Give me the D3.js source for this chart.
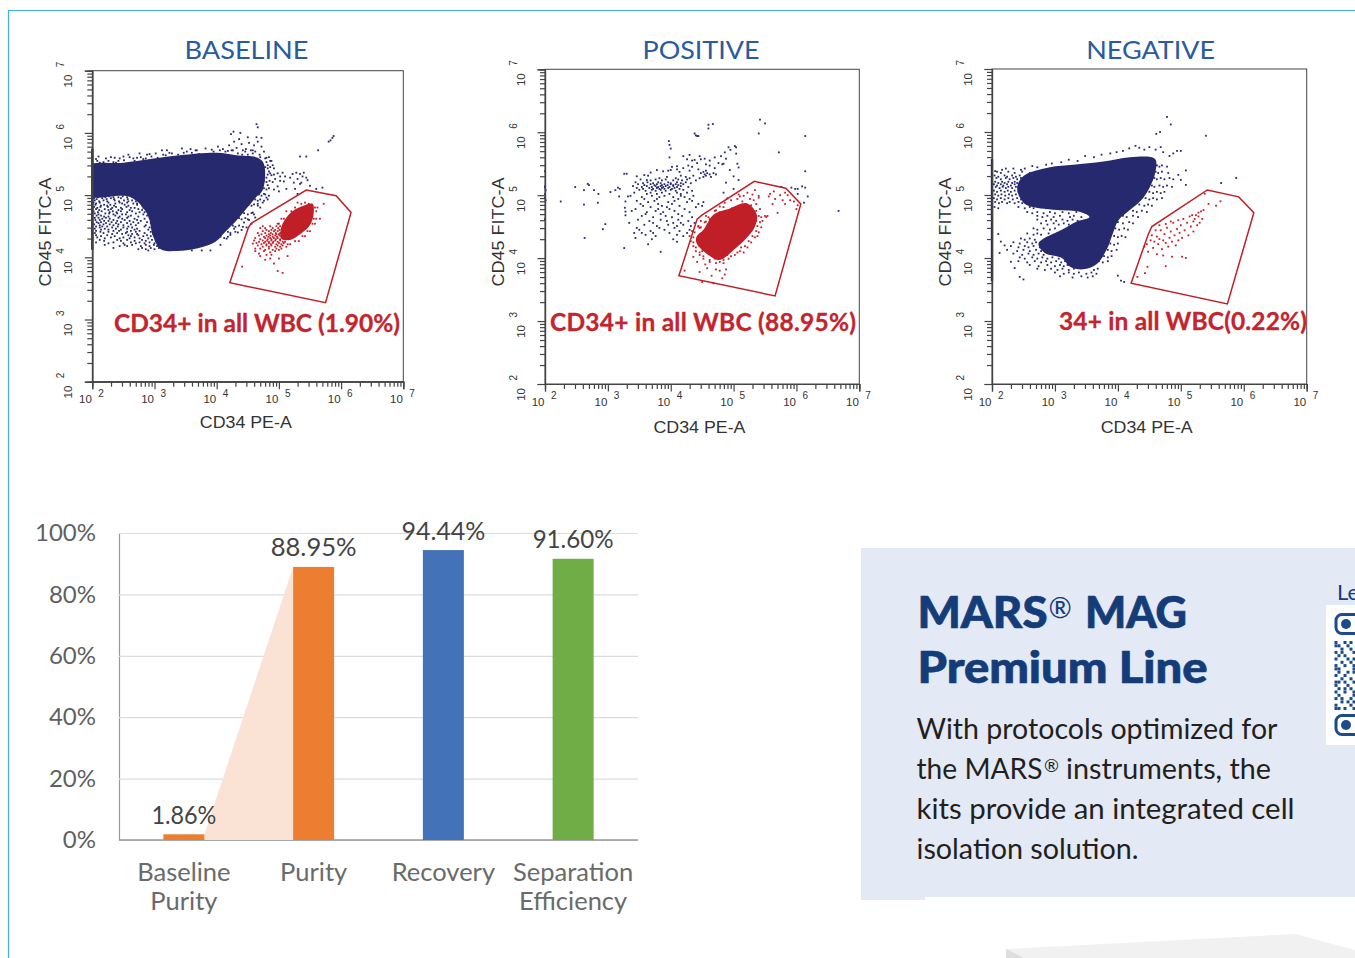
<!DOCTYPE html>
<html>
<head>
<meta charset="utf-8">
<script src="https://cdn.jsdelivr.net/npm/d3@7"></script>
<style>
html,body{margin:0;padding:0;background:#fff;overflow:hidden}
text{font-family:Lato,"Open Sans",sans-serif}
.cyto text{font-family:"Liberation Sans",Arial,sans-serif;fill:#333}
.cyto text.plotTitle,.cyto text.gateLabel{font-family:Lato,sans-serif}
</style>
</head>
<body>
<div id="chart"></div>
<script>
// all flow values are log10 exponents: [CD34 PE-A, CD45 FITC-A]
const decades = [2,3,4,5,6,7];
const minorSteps = [2,3,4,5,6,7,8,9];

const baselineGate = [[4.21,3.59],[4.51,4.48],[4.56,4.55],[5.44,5.08],[5.92,4.99],[6.16,4.72],[5.75,3.27]];
const positiveGate = [[4.13,3.72],[4.42,4.62],[4.49,4.68],[5.33,5.22],[5.83,5.11],[6.07,4.86],[5.66,3.40]];
const negativeGate = [[4.21,3.60],[4.48,4.37],[4.54,4.50],[5.42,5.08],[5.92,4.97],[6.16,4.72],[5.74,3.27]];

// solid part of each population
const baselineNavyMass = [[1.90,5.46],[2.50,5.52],[2.93,5.58],[3.41,5.64],[4.00,5.68],[4.32,5.64],[4.66,5.60],[4.76,5.50],[4.74,5.08],[4.62,4.95],[4.46,4.76],[4.30,4.57],[4.14,4.41],[3.98,4.25],[3.68,4.14],[3.36,4.10],[3.10,4.13],[2.98,4.33],[2.88,4.70],[2.61,4.97],[1.90,5.00]];
const baselineRedMass = [[5.04,4.49],[5.18,4.71],[5.37,4.82],[5.54,4.86],[5.56,4.71],[5.50,4.52],[5.34,4.37],[5.18,4.28],[5.04,4.30]];
const positiveRedMass = [[4.52,4.45],[4.68,4.69],[4.94,4.79],[5.21,4.87],[5.37,4.69],[5.34,4.50],[5.18,4.29],[5.00,4.13],[4.78,3.97],[4.57,4.07],[4.41,4.24],[4.41,4.34]];
const negativeNavyMass = [[2.50,5.30],[2.92,5.44],[3.29,5.48],[3.77,5.53],[4.19,5.60],[4.59,5.57],[4.59,5.34],[4.51,5.13],[4.40,4.95],[4.19,4.76],[4.01,4.60],[3.92,4.39],[3.82,4.13],[3.66,3.90],[3.45,3.82],[3.24,3.86],[3.11,4.00],[2.84,4.08],[2.74,4.23],[3.13,4.46],[3.35,4.58],[3.55,4.65],[3.40,4.73],[3.03,4.76],[2.55,4.84],[2.44,4.97],[2.40,5.13]];

// events piled against the left axis
const baselineEdge = [[2,5.75],[2,4.12]];
const negativeEdge = [[2,5.57],[2,3.63]];

// events typed as rows: [CD45, [CD34, CD34, ...]]
const baselineNavyRows = [
[5.72,[3.20,3.68,4.05,4.24,4.55]],[5.70,[3.52,3.95,4.14,4.46,4.62]],
[5.67,[2.76,3.02,3.28,4.34,4.58]],[5.65,[2.58,2.88,3.14,3.38,4.41,4.50,4.69]],
[5.61,[2.30,2.60,2.78,4.70,4.84]],[5.59,[2.22,2.44,2.66,2.86,4.78]],
[5.55,[2.08,2.26,2.42,4.88]],[5.53,[2.18,2.34,4.80]],
[5.45,[4.78,4.86]],[5.43,[4.82,4.92]],[5.35,[4.76,4.86,4.98]],[5.33,[4.82,4.92]],
[5.23,[4.76,4.85,5.02]],[5.21,[4.80,4.90]],[5.11,[4.76,4.84]],[5.09,[4.80,4.92]],
[5.01,[4.68,4.78]],[4.99,[4.72,4.84]],[4.93,[4.62,4.70,4.82]],[4.91,[4.66,4.76]],
[4.85,[4.52,4.60]],[4.83,[4.56,4.66]],[4.71,[4.44,4.56]],[4.69,[4.50,4.60]],
[4.63,[4.36,4.46]],[4.61,[4.40,4.50]],[4.51,[4.26,4.36]],[4.49,[4.30,4.42]],
[4.41,[4.18,4.30]],[4.39,[4.22]],[4.33,[4.06,4.18]],[4.31,[4.12]],
[4.98,[2.02,2.15,2.27,2.49,2.63]],[4.965,[2.09,2.21,2.34,2.42,2.56]],[4.95,[2.03,2.16,2.30,2.46,2.68]],[4.935,[2.07,2.23,2.35,2.57,2.74]],
[4.915,[2.04,2.18,2.36,2.51,2.64]],[4.90,[2.11,2.24,2.43,2.58,2.70,2.78]],[4.88,[2.02,2.12,2.26,2.44,2.56,2.83]],[4.865,[2.06,2.37,2.48,2.66,2.72,2.82]],
[4.845,[2.05,2.19,2.29,2.52,2.72]],[4.83,[2.14,2.24,2.35,2.58,2.80,2.86]],[4.81,[2.03,2.13,2.25,2.38,2.55,2.90]],[4.795,[2.08,2.32,2.46,2.62,2.68,2.82]],
[4.775,[2.06,2.20,2.30,2.48,2.74,2.90]],[4.76,[2.11,2.26,2.42,2.60,2.80]],[4.74,[2.02,2.15,2.33,2.46,2.64,2.92]],[4.725,[2.09,2.28,2.39,2.56,2.76,2.84]],
[4.705,[2.04,2.21,2.27,2.40,2.70,2.90]],[4.69,[2.10,2.34,2.48,2.54,2.82]],[4.67,[2.07,2.14,2.37,2.62,2.88]],[4.655,[2.19,2.26,2.44,2.58,2.74,2.94]],
[4.635,[2.04,2.10,2.22,2.42,2.56,2.92]],[4.62,[2.16,2.28,2.48,2.68,2.84]],[4.60,[2.05,2.12,2.34,2.52,2.72,2.96]],[4.585,[2.19,2.26,2.40,2.60,2.78]],
[4.565,[2.07,2.14,2.31,2.46,2.66,2.88]],[4.55,[2.10,2.22,2.38,2.56,2.74,2.94]],[4.53,[2.03,2.18,2.28,2.42,2.62,2.98]],[4.515,[2.12,2.34,2.50,2.70,2.86]],
[4.495,[2.06,2.16,2.24,2.41,2.58,2.84]],[4.48,[2.12,2.32,2.50,2.64,2.92]],[4.46,[2.04,2.20,2.38,2.56,2.72,2.98]],[4.445,[2.14,2.26,2.46,2.68,2.90]],
[4.425,[2.06,2.34,2.43,2.62,2.76,3.00]],[4.41,[2.13,2.26,2.56,2.70,2.94]],[4.39,[2.04,2.18,2.40,2.54,2.84]],[4.375,[2.32,2.48,2.64,2.72,2.98]],
[4.355,[2.06,2.24,2.58,2.74,2.88]],[4.34,[2.14,2.36,2.62,2.82,2.94]],[4.32,[2.08,2.30,2.50,2.68,3.02]],[4.305,[2.20,2.44,2.60,2.76,2.90]],
[4.28,[2.12,2.40,2.56,2.80,2.96]],[4.265,[2.19,2.46,2.68,2.86,3.02]],[4.24,[2.06,2.34,2.62,2.76,2.92]],[4.225,[2.26,2.50,2.70,2.84,3.00,3.06]],
[4.20,[2.20,2.52,2.64,2.86,2.99]],[4.18,[2.44,2.56,2.78,2.92,3.04]],[4.15,[2.34,2.80,2.94,3.07,3.30]],[4.13,[2.74,2.86,3.00,3.20,3.46]],[4.11,[2.90,3.60,3.76,3.90]]
];
const baselineRedRows = [
[4.50,[4.74,4.86,4.96,5.02]],[4.47,[4.70,4.78,4.90,4.99]],[4.44,[4.80,4.88,4.94,5.01]],[4.42,[4.74,4.84,4.92,4.98]],
[4.39,[4.66,4.78,4.87,4.95,5.02]],[4.37,[4.72,4.84,4.90,4.96,5.00]],[4.35,[4.68,4.80,4.86,4.94,5.01]],[4.33,[4.76,4.83,4.90,4.97,5.04]],
[4.31,[4.62,4.78,4.86,4.92,4.98]],[4.29,[4.70,4.82,4.88,4.95,5.02]],[4.27,[4.60,4.74,4.81,4.88,4.94,5.02]],[4.25,[4.68,4.78,4.84,4.91,4.98,5.06,5.10]],
[4.23,[4.64,4.76,4.84,4.90,5.00,5.08]],[4.21,[4.72,4.80,4.87,4.96,5.04,5.14,5.18]],[4.19,[4.66,4.80,4.88,4.98,5.06]],[4.17,[4.74,4.84,4.94,5.02,5.12]],
[4.14,[4.70,4.84,4.96,5.04]],[4.12,[4.78,4.90,5.00]],[4.10,[4.62,4.76,4.94]],[4.08,[4.86]],
[4.88,[5.30,5.42]],[4.86,[5.36,5.48]],[4.80,[5.26,5.58,5.62]],[4.74,[5.12,5.20,5.60]],[4.62,[5.04,5.08,5.56,5.60]],[4.54,[4.98,5.00,5.54,5.58]],[4.42,[5.46,5.50]],[4.34,[5.38,5.42]],[4.26,[5.26,5.32]]
];
const positiveNavyRows = [
[5.25,[3.52,3.76,3.92,4.12,4.26]],[5.235,[3.68,3.86,4.04,4.18,4.40]],[5.205,[3.44,3.63,3.80,3.96,4.10,4.24]],[5.19,[3.56,3.72,3.84,4.00,4.16,4.32]],
[5.175,[3.48,3.68,3.78,3.90,4.00,4.08,4.20]],[5.16,[3.58,3.74,3.86,3.95,4.04,4.12]],[5.145,[3.40,3.62,3.76,3.84,3.92,4.04,4.16]],[5.13,[3.54,3.70,3.80,3.88,3.98,4.10,4.28]],
[5.115,[3.46,3.66,3.78,3.86,3.96,4.06]],[5.10,[3.56,3.72,3.82,3.90,4.02,4.14]],[5.085,[3.50,3.70,3.84,4.00,4.20]],[5.07,[3.60,3.76,3.92,4.08,4.34]],
[5.04,[3.42,3.68,3.86,4.10,4.26]],[5.02,[3.62,3.78,3.98,4.16]],[4.99,[3.36,3.70,3.90,4.16,4.36]],[4.97,[3.54,3.82,4.04,4.22]],
[4.91,[3.46,3.74,4.06,4.34]],[4.89,[3.64,3.96,4.26,4.52]],[4.83,[3.56,3.86,4.14,4.50]],[4.81,[3.68,3.94,4.40]],
[4.75,[3.38,3.76,4.06]],[4.73,[3.62,3.88,4.30]],[4.67,[3.54,3.92,4.18]],[4.65,[3.72,4.02,4.34]],
[4.61,[3.48,3.84,4.12]],[4.59,[3.66,3.94,4.28]],[4.53,[3.58,3.96,4.20]],[4.51,[3.78,4.10,4.32]],
[4.45,[3.50,3.90,4.30]],[4.43,[3.68,4.14]],[4.37,[3.60,4.10]],[4.35,[3.76,4.20]],
[5.31,[3.64,4.16,4.36,4.56]],[5.29,[3.94,4.24,4.52,4.64]],[5.35,[4.48,4.58,4.68]],[5.33,[4.54,4.62,4.72]],
[5.39,[3.96,4.30,4.56]],[5.37,[4.14,4.52]],[5.45,[4.02,4.34]],[5.43,[4.20,4.70]],
[5.51,[4.42,4.76]],[5.49,[4.56,4.82]],[5.57,[4.26,4.48]],[5.55,[4.34,4.62]],
[4.86,[3.52,3.80,4.02,4.44]],[4.78,[3.44,3.80,3.98,4.22]],[4.70,[3.60,3.84,4.12]],[4.56,[3.72,4.04,4.16,4.38]],[4.48,[3.46,3.82,4.06]],[4.40,[3.72,3.98,4.26]],[4.94,[3.58,3.78,4.12,4.30]],[5.27,[3.82,4.08,4.30,4.46]],[5.41,[4.10,4.44]],[5.47,[4.28,4.62]]
];
const positiveRedRows = [
[4.81,[4.84,5.04,5.16]],[4.79,[4.98,5.08,5.24]],[4.75,[4.70,4.86,5.36]],[4.73,[4.78,5.30]],
[4.67,[4.56,5.40,5.50,5.54]],[4.65,[4.60,5.44,5.52]],[4.59,[4.48,5.36,5.46]],[4.57,[4.54,5.42]],
[4.51,[4.44,5.38]],[4.49,[4.48,5.44]],[4.43,[4.34,5.36]],[4.41,[4.38,5.40]],
[4.35,[4.30,5.30,5.38]],[4.33,[4.36,5.34]],[4.27,[4.32,5.24]],[4.25,[4.36,5.28]],
[4.19,[4.36,4.46,5.18]],[4.17,[4.40,5.12,5.22]],[4.11,[4.40,4.50,5.10]],[4.09,[4.46,5.06,5.16]],
[4.05,[4.46,4.90,5.02]],[4.03,[4.52,4.96]],[3.99,[4.52,4.70,4.92]],[3.97,[4.62,4.84]],[3.94,[4.62,4.78]],[3.92,[4.72,4.84]],
[5.01,[5.08,5.30]],[4.99,[5.16,5.40]]
];
const negativeNavyRows = [
[5.37,[2.08,2.26,2.48,2.70]],[5.35,[2.14,2.36,2.60]],[5.31,[2.04,2.20,2.32,2.44]],[5.29,[2.10,2.24,2.38]],
[5.27,[2.07,2.22,2.34,2.46]],[5.25,[2.14,2.28,2.40]],[5.21,[2.05,2.16,2.26,2.36]],[5.19,[2.10,2.20,2.32,2.40]],
[5.17,[2.03,2.14,2.24,2.36]],[5.15,[2.08,2.18,2.30]],[5.13,[2.06,2.17,2.26,2.38]],[5.11,[2.12,2.22,2.32]],
[5.07,[2.03,2.14,2.25,2.36]],[5.05,[2.08,2.20,2.30,2.42]],[5.01,[2.05,2.15,2.27,2.38]],[4.99,[2.10,2.21,2.32,2.44]],
[4.95,[2.03,2.14,2.26,2.40,2.50]],[4.93,[2.08,2.20,2.33,2.46]],[4.89,[2.05,2.16,2.28,2.42,2.54]],[4.87,[2.11,2.24,2.36,2.48]],
[4.81,[2.04,2.42,2.60,2.74,2.96]],[4.79,[2.10,2.52,2.66,2.86]],[4.73,[2.56,2.72,2.92,3.12,3.34]],[4.71,[2.64,2.82,3.00,3.22]],
[4.67,[2.72,2.88,3.08,3.30]],[4.65,[2.80,2.98,3.24,3.42]],[4.61,[2.72,2.94,3.12,3.28]],[4.59,[2.86,3.02,3.20,3.36]],
[4.55,[2.78,2.98,3.14]],[4.53,[2.88,3.06,3.22]],[4.47,[2.66,2.82,3.00]],[4.45,[2.72,2.92]],
[4.39,[2.56,2.72,2.90]],[4.37,[2.66,2.78]],[4.31,[2.46,2.60]],[4.29,[2.52,2.68]],
[4.25,[2.34,2.56,2.70]],[4.23,[2.44,2.64]],[4.19,[2.30,2.52,2.66]],[4.17,[2.42,2.58,2.76]],
[4.13,[2.24,2.50,2.70]],[4.11,[2.40,2.60,2.78]],[4.07,[2.34,2.58,2.74,2.94]],[4.05,[2.48,2.66,2.82,3.02]],
[4.01,[2.44,2.64,2.80,2.96]],[3.99,[2.52,2.72,2.88,3.06]],[3.95,[2.42,2.68,2.86,3.02,3.16]],[3.93,[2.56,2.78,2.94,3.10]],
[3.89,[2.60,2.88,3.08,3.20]],[3.87,[2.74,3.00,3.14]],[3.83,[2.72,2.94,3.12,3.30,3.68]],[3.81,[2.84,3.04,3.22,3.62]],
[3.77,[3.00,3.22,3.38,3.58]],[3.75,[3.14,3.30,3.50,3.66]],[3.71,[3.08,3.42,3.60]],[3.69,[3.28,3.52]],
[5.47,[4.62,4.70]],[5.45,[4.66,4.78]],[5.37,[4.60,4.70]],[5.35,[4.64,4.80]],
[5.27,[4.58,4.68,4.82]],[5.25,[4.62,4.74,4.88]],[5.15,[4.54,4.66,4.78]],[5.13,[4.58,4.72,4.86]],
[5.05,[4.50,4.62,4.74]],[5.03,[4.56,4.68]],[4.95,[4.44,4.56,4.70]],[4.93,[4.50,4.62]],
[4.85,[4.34,4.48]],[4.83,[4.42,4.54]],[4.75,[4.24,4.38]],[4.73,[4.30,4.46]],
[4.67,[4.08,4.24]],[4.65,[4.14,4.32]],[4.57,[4.00,4.18]],[4.55,[4.08,4.24]],
[4.47,[3.96,4.10]],[4.45,[4.02,4.16]],[4.35,[3.94,4.06]],[4.33,[4.00,4.12]],
[4.23,[3.88,4.00]],[4.21,[3.94]],[4.13,[3.84,3.98]],[4.11,[3.90]],[4.03,[3.78,3.90]],[4.01,[3.84]],[3.95,[3.70,3.84]],[3.93,[3.76]]
];

const baselineNavyEvents = [
[2.06,5.58],[2.10,5.62],[2.12,5.52],[2.36,5.60],[2.38,5.52],[2.50,5.62],[2.51,5.56],[2.68,5.55],[2.72,5.60],[2.82,5.58],[2.92,5.66],[2.95,5.62],[3.05,5.60],[3.12,5.72],[3.18,5.64],[3.24,5.68],[3.30,5.61],[3.44,5.75],[3.47,5.68],[3.58,5.74],[3.60,5.68],[3.66,5.72],[3.72,5.66],[3.82,5.75],[3.92,5.73],[4.02,5.78],[4.10,5.74],[4.18,5.71],[4.20,5.80],[4.26,5.72],[4.28,5.86],[4.32,5.76],[4.36,5.90],[4.40,5.82],[4.42,5.72],[4.47,5.74],[4.50,5.93],[4.52,5.84],[4.58,5.72],[4.60,5.80],[4.64,5.93],[4.66,5.86],[4.64,6.14],[4.66,6.09],[4.72,5.92],[4.72,5.78],[4.76,5.70],[4.23,5.98],[4.27,6.02],[4.38,6.00],[4.80,5.60],[4.86,5.55],[4.82,5.48],[4.90,5.48],[4.84,5.38],[4.80,5.28],[4.88,5.32],[4.94,5.26],[4.82,5.16],[4.76,5.02],[4.80,4.96],[4.74,4.88],[4.70,4.80],[4.66,4.86],[4.58,4.72],[4.62,4.64],[4.52,4.60],[4.56,4.54],[4.44,4.56],[4.48,4.48],[4.40,4.44],[4.34,4.40],[4.28,4.46],[4.22,4.36],[4.16,4.30],[4.06,4.20],
[5.02,5.30],[5.06,5.36],[5.08,5.22],[5.10,5.30],[5.12,5.10],[5.18,5.28],[5.22,5.34],[5.24,5.20],[5.28,5.36],[5.30,5.26],[5.34,5.34],[5.36,5.20],[5.38,5.30],[5.40,5.36],[5.44,5.28],[5.46,5.24],[5.26,5.10],[5.30,5.02],[5.34,5.18],[5.50,5.15],[4.98,5.14],[5.00,5.06],[5.34,5.62],[5.44,5.62],[5.63,5.72],[5.80,5.86],[5.83,5.88],[5.86,5.92],[5.88,5.95],[5.70,5.12],[5.60,5.10]
];
const baselineRedEvents = [
[4.41,3.85],[4.58,4.22],[4.62,4.14],[4.68,4.06],[4.80,4.04],[4.86,3.98],[4.92,3.90],[5.00,3.98],[4.98,3.78],[5.06,3.75],[5.14,4.02],[4.70,4.02],[4.78,3.96],[4.88,4.04],[5.66,4.62],[5.72,4.86]
];
const positiveNavyEvents = [
[2.00,5.38],[2.00,5.14],[2.00,5.12],[2.01,5.08],[2.00,5.02],[2.00,4.96],[2.01,4.92],[2.00,4.62],[2.25,4.90],[2.48,5.13],[2.62,5.08],[2.68,5.18],[2.70,5.16],[2.62,4.85],[2.63,4.32],[2.78,5.08],[2.85,5.02],[2.84,4.88],[2.92,4.46],[2.96,4.54],[3.04,5.05],[3.12,5.08],[3.18,4.98],[3.16,5.12],[3.19,5.10],
[3.26,5.34],[3.30,5.34],[3.28,4.90],[3.27,4.80],[3.28,4.74],[3.28,4.68],[3.26,4.16],[3.32,4.98],[3.34,4.56],[3.42,4.40],[3.44,4.32],[3.46,5.30],[3.54,4.40],[3.58,5.32],[3.62,5.24],[3.64,4.22],[3.68,5.36],[3.70,4.30],[3.78,5.40],[3.84,4.10],[3.88,5.38],[3.98,5.60],[4.00,5.40],[4.04,4.30],[4.10,5.46],[4.10,4.26],[4.20,5.62],[4.30,5.64],[4.38,5.56],[4.46,5.62],[4.54,5.58],[4.70,5.60],
[3.98,5.80],[4.00,5.74],[3.97,5.86],[4.38,5.98],[4.40,5.95],[4.42,5.94],[4.44,5.94],[4.60,6.06],[4.60,6.12],[4.67,6.13],[4.80,5.62],[4.84,5.50],[4.86,5.68],[4.88,5.58],[4.92,5.76],[4.95,5.72],[5.02,5.78],[5.04,5.76],[5.04,5.66],[5.06,5.50],[5.08,5.44],[4.88,5.20],[4.94,5.40],[5.00,5.30],[5.08,5.24],[5.00,5.10],[4.84,5.04],[4.90,4.95],[5.40,5.98],[5.42,6.20],[5.50,6.14],[5.72,5.68],[6.14,5.94],[6.14,5.38],[5.76,5.13],[5.92,5.12],[5.98,5.10],[6.02,5.10],[6.02,5.02],[6.18,4.98],[6.09,5.14],[6.14,5.12],[6.12,4.88],[6.67,4.75]
];
const positiveRedEvents = [
[4.22,3.80],[4.36,4.02],[4.42,3.94],[4.46,3.78],[4.50,3.62],[4.55,3.90],[4.58,3.84],[4.65,3.72],[4.68,3.60],[4.72,3.82],[4.78,3.80],[4.82,3.68],[4.86,3.74],[4.88,3.82],[4.44,4.50],[4.46,4.48],[4.56,4.58],[4.62,4.62],[4.72,4.76],[4.78,4.82],[4.86,4.88],[4.96,4.92],[5.06,4.94],[5.10,4.98],[5.14,4.90],[5.22,5.04],[5.26,4.94],[5.28,4.84],[5.32,4.92],[5.34,5.08],[5.36,4.86],[5.40,4.96],[5.42,4.78],[5.56,4.98],[5.58,5.02],[5.62,4.86],[5.64,5.06],[5.66,4.94],[5.70,4.72],[5.74,5.00],[5.78,4.92],[5.82,5.04],[5.86,5.00],[5.90,4.92],[5.96,4.90],[6.00,4.78],[6.02,4.84],[5.82,4.86]
];
const negativeNavyEvents = [
[2.05,5.38],[2.16,5.40],[2.22,5.42],[2.34,5.42],[2.46,5.40],[2.52,5.42],[2.64,5.46],[2.72,5.44],[2.86,5.48],[2.95,5.50],[3.10,5.52],[3.22,5.56],[3.36,5.54],[3.48,5.62],[3.62,5.60],[3.74,5.64],[3.88,5.66],[3.98,5.68],[4.08,5.70],[4.18,5.74],[4.28,5.78],[4.34,5.75],[4.42,5.72],[4.50,5.76],[4.60,5.72],[4.68,5.76],[4.72,5.68],[4.82,5.62],[4.88,5.66],[4.94,5.70],[5.00,5.70],
[2.10,4.38],[2.14,4.26],[2.12,4.08],[2.20,4.20],[2.30,3.94],[2.36,3.84],[2.50,3.66],[2.44,3.70],[4.00,3.72],[4.10,3.62],[4.05,3.64],[4.96,5.32],[5.00,5.24],
[4.78,6.24],[4.84,6.12],[4.67,6.00],[4.61,5.97],[5.40,5.94],[5.88,5.27],[5.64,5.19],[5.08,5.39],[5.08,5.16]
];
const negativeRedEvents = [
[4.31,3.70],[4.43,3.76],[4.47,3.86],[4.76,3.87],[4.42,4.18],[4.46,4.22],[4.48,4.10],[4.52,4.28],[4.54,4.36],[4.56,4.16],[4.58,4.26],[4.62,4.34],[4.62,4.06],[4.64,4.22],[4.66,4.30],[4.68,4.44],[4.70,4.14],[4.72,4.04],[4.72,4.28],[4.74,4.38],[4.76,4.24],[4.78,4.48],[4.80,4.18],[4.82,4.32],[4.84,4.42],[4.86,4.26],[4.86,4.02],[4.88,4.56],[4.90,4.36],[4.92,4.20],[4.94,4.46],[4.96,4.28],[4.96,4.60],[4.98,4.40],[5.00,4.52],[5.02,4.32],[5.02,4.02],[5.04,4.62],[5.06,4.44],[5.08,4.00],[5.10,4.56],[5.12,4.36],[5.14,4.66],[5.16,4.50],[5.18,4.68],[5.20,4.42],[5.20,4.58],[5.22,4.62],[5.24,4.68],[5.26,4.52],[5.28,4.72],[5.30,4.56],[5.32,4.74],[5.34,4.62],[5.36,4.76],[5.28,4.66],[5.44,4.86],[5.56,4.83],[5.63,4.90],[5.38,5.02],[4.60,4.44],[4.66,4.52],[4.76,4.54],[4.84,4.58]
];

const panelTitles = ["BASELINE","POSITIVE","NEGATIVE"];
const panelGates = [baselineGate,positiveGate,negativeGate];
const panelNavyMass = [baselineNavyMass,[],negativeNavyMass];
const panelRedMass = [baselineRedMass,positiveRedMass,[]];
const panelEdges = [baselineEdge,[],negativeEdge];
const panelNavyEvents = [baselineNavyEvents,positiveNavyEvents,negativeNavyEvents];
const panelNavyRows = [baselineNavyRows,positiveNavyRows,negativeNavyRows];
const panelRedEvents = [baselineRedEvents,positiveRedEvents,negativeRedEvents];
const panelRedRows = [baselineRedRows,positiveRedRows,[]];
const gateLabels = ["CD34+ in all WBC (1.90%)","CD34+ in all WBC (88.95%)","34+ in all WBC(0.22%)"];

// bar chart
const barCategories = [["Baseline","Purity"],["Purity"],["Recovery"],["Separation","Efficiency"]];
const barValues = [1.86,88.95,94.44,91.60];
const barLabels = ["1.86%","88.95%","94.44%","91.60%"];
const barColors = ["#ed7d31","#ed7d31","#4472b8","#70ad47"];
const barTicks = [0,20,40,60,80,100];

const qrRows = ["1001010","1100100","0010010","1010001","0101000","1000101","0010010","1001001","1100001","0100101","1001000","0010010","1101001","1000100","0101010","1001001","0100001","1010010","0010101","1000010","1101001"];

const width = 1355,height = 958;
const navy = "#27296f",red = "#c01f27";
const flatten = r => r.flatMap(row => row[1].map(x => [x,row[0]]));

const svg = d3.select("#chart").append("svg")
    .attr("width",width)
    .attr("height",height)
    .style("display","block");

// outer frame
svg.append("path")
    .attr("d","M8.5,958V10.5H1355")
    .attr("fill","none")
    .attr("stroke","#3fb3e6")
    .attr("stroke-width",1.2);

const layouts = [
    {left:92.3,right:403.3,top:70.7,bottom:381.7,titleX:246.5,xLabelX:245.8,xLabelY:427.7,gateX:114,gateW:286,gateY:331.5},
    {left:545,right:859.3,top:69.3,bottom:384,titleX:701,xLabelX:699.5,xLabelY:432.7,gateX:550,gateW:306,gateY:331},
    {left:992,right:1306.7,top:69,bottom:384,titleX:1150.7,xLabelX:1146.7,xLabelY:432.7,gateX:1059,gateW:248,gateY:330}
];
const titleWidths = [124,117,129];
const dot = 1.8;

panelTitles.forEach(function(title,i){
    const lay = layouts[i];
    const x = d3.scaleLog().domain([1e2,1e7]).range([lay.left,lay.right]);
    const y = d3.scaleLog().domain([1e2,1e7]).range([lay.bottom,lay.top]);
    const px = d => x(Math.pow(10,d[0]));
    const py = d => y(Math.pow(10,d[1]));
    const outline = d3.line().x(px).y(py);
    const blob = d3.line().x(px).y(py).curve(d3.curveCatmullRomClosed.alpha(.5));
    const g = svg.append("g").attr("class","cyto");

    const majors = decades.map(d => Math.pow(10,d));
    const minors = [];
    decades.slice(0,5).forEach(function(d){
        minorSteps.forEach(function(m){ minors.push(m*Math.pow(10,d)); });
    });

    g.append("rect")
        .attr("x",lay.left).attr("y",lay.top)
        .attr("width",lay.right-lay.left).attr("height",lay.bottom-lay.top)
        .attr("fill","none").attr("stroke","#444").attr("stroke-width",1);

    const clipId = "plotClip"+i;
    g.append("clipPath").attr("id",clipId).append("rect")
        .attr("x",lay.left).attr("y",lay.top)
        .attr("width",lay.right-lay.left).attr("height",lay.bottom-lay.top);

    // populations
    if(panelNavyMass[i].length){
        g.append("path").attr("clip-path","url(#"+clipId+")").attr("d",blob(panelNavyMass[i])).attr("fill",navy);
    }
    if(panelEdges[i].length){
        g.append("path").attr("d",outline(panelEdges[i])).attr("stroke",navy).attr("stroke-width",2.4);
    }
    g.append("g").selectAll("rect").data(panelNavyEvents[i].concat(flatten(panelNavyRows[i]))).enter().append("rect")
        .attr("x",d => px(d)-dot/2).attr("y",d => py(d)-dot/2)
        .attr("width",dot).attr("height",dot).attr("fill",navy);
    if(panelRedMass[i].length){
        g.append("path").attr("d",blob(panelRedMass[i])).attr("fill",red);
    }
    g.append("g").selectAll("rect").data(panelRedEvents[i].concat(flatten(panelRedRows[i]))).enter().append("rect")
        .attr("x",d => px(d)-dot/2).attr("y",d => py(d)-dot/2)
        .attr("width",dot).attr("height",dot).attr("fill",red);

    // axes, major and minor ticks separately
    [[majors,7.5],[minors,5]].forEach(function(a){
        g.append("g")
            .attr("transform","translate(0,"+lay.bottom+")")
            .call(d3.axisBottom(x).tickValues(a[0]).tickSize(a[1]).tickFormat(""))
            .call(s => s.selectAll("line,path").attr("stroke","#444").attr("stroke-width",1.2));
        g.append("g")
            .attr("transform","translate("+lay.left+",0)")
            .call(d3.axisLeft(y).tickValues(a[0]).tickSize(a[1]).tickFormat(""))
            .call(s => s.selectAll("line,path").attr("stroke","#444").attr("stroke-width",1.2));
    });

    // tick labels with superscript
    decades.forEach(function(d){
        const v = Math.pow(10,d);
        g.append("text").attr("x",x(v)-.5).attr("y",lay.bottom+21.5)
            .attr("text-anchor","end").attr("font-size",11.5).text("10");
        g.append("text").attr("x",x(v)+6).attr("y",lay.bottom+15)
            .attr("font-size",10).text(d);
        g.append("text").attr("transform","translate("+(lay.left-20.5)+","+(y(v)+4)+") rotate(-90)")
            .attr("text-anchor","end").attr("font-size",11.5).text("10");
        g.append("text").attr("transform","translate("+(lay.left-28)+","+(y(v)-3.5)+") rotate(-90)")
            .attr("font-size",10).text(d);
    });

    g.append("text").attr("x",lay.xLabelX).attr("y",lay.xLabelY)
        .attr("text-anchor","middle").attr("font-size",16)
        .attr("textLength",92).attr("lengthAdjust","spacingAndGlyphs")
        .text("CD34 PE-A");
    g.append("text").attr("transform","translate("+(lay.left-41.5)+",232) rotate(-90)")
        .attr("text-anchor","middle").attr("font-size",16.5)
        .attr("textLength",109).attr("lengthAdjust","spacingAndGlyphs")
        .text("CD45 FITC-A");

    g.append("text").attr("class","plotTitle")
        .attr("x",lay.titleX).attr("y",58.5)
        .attr("text-anchor","middle").attr("font-size",25)
        .attr("textLength",titleWidths[i]).attr("lengthAdjust","spacingAndGlyphs")
        .style("fill","#2a5b9e").text(title);

    g.append("path").attr("d",outline(panelGates[i])+"Z")
        .attr("fill","none").attr("stroke",red).attr("stroke-width",1.5);
    g.append("text").attr("class","gateLabel")
        .attr("x",lay.gateX).attr("y",lay.gateY)
        .attr("font-size",24.5).attr("font-weight",700)
        .attr("textLength",lay.gateW).attr("lengthAdjust","spacing")
        .attr("stroke","#c3242d").attr("stroke-width",.3)
        .style("fill","#c3242d").text(gateLabels[i]);
});

// bar chart
const barX = d3.scaleBand().domain(d3.range(barValues.length)).range([119,638]).paddingInner(.684).paddingOuter(.342);
const barY = d3.scaleLinear().domain([0,100]).range([840,533]);
const valueWidths = [65,86,84,81];
const barG = svg.append("g");

barG.append("g")
    .attr("transform","translate(119,0)")
    .call(d3.axisLeft(barY).tickValues(barTicks).tickSize(-519).tickPadding(23).tickFormat(d => d+"%"))
    .call(function(s){
        s.select(".domain").attr("stroke","#999").attr("stroke-width",1.2);
        s.selectAll(".tick line").attr("stroke","#dcdcdc").attr("stroke-width",1.2);
        s.selectAll(".tick text").attr("font-family","Lato").attr("font-size",24).attr("fill","#5f5f5f");
    });
barG.append("line")
    .attr("x1",119).attr("x2",638).attr("y1",barY(0)).attr("y2",barY(0))
    .attr("stroke","#999").attr("stroke-width",1.5);

// shaded wedge from baseline to purity
barG.append("path")
    .attr("d",d3.area()
        .x(d => d[0])
        .y0(barY(0))
        .y1(d => barY(d[1]))([[barX(0)+barX.bandwidth(),barValues[0]],[barX(1),barValues[1]]]))
    .attr("fill","#fae3d5");

barG.selectAll("rect.bar").data(barValues).enter().append("rect")
    .attr("class","bar")
    .attr("x",(d,i) => barX(i))
    .attr("y",d => barY(d))
    .attr("width",barX.bandwidth())
    .attr("height",d => barY(0)-barY(d))
    .attr("fill",(d,i) => barColors[i]);

barG.selectAll("text.val").data(barLabels).enter().append("text")
    .attr("class","val")
    .attr("x",(d,i) => barX(i)+barX.bandwidth()/2)
    .attr("y",(d,i) => barY(barValues[i])-10.5)
    .attr("text-anchor","middle")
    .attr("font-size",25.5)
    .attr("textLength",(d,i) => valueWidths[i])
    .attr("lengthAdjust","spacingAndGlyphs")
    .attr("fill","#444")
    .text(d => d);

barCategories.forEach(function(lines,i){
    lines.forEach(function(l,j){
        barG.append("text")
            .attr("x",barX(i)+barX.bandwidth()/2)
            .attr("y",881+j*29)
            .attr("text-anchor","middle")
            .attr("font-size",25.5)
            .attr("fill","#6a6a6a")
            .text(l);
    });
});

// info box on the right
svg.append("rect").attr("x",861).attr("y",548).attr("width",494).attr("height",349).attr("fill","#e3e9f5");
svg.append("rect").attr("x",861).attr("y",897).attr("width",64).attr("height",3).attr("fill","#e3e9f5");

const headPieces = [["MARS",917.5,130,628.3,43],["MAG",1085,102,628.3,43],["Premium Line",917.5,290,683.3,43]];
headPieces.forEach(function(p){
    svg.append("text").attr("x",p[1]).attr("y",p[3]).attr("font-size",p[4]).attr("font-weight",900)
        .attr("fill","#143c78").attr("stroke","#143c78").attr("stroke-width",.7)
        .attr("textLength",p[2]).attr("lengthAdjust","spacingAndGlyphs").text(p[0]);
});
svg.append("text").attr("x",1048.5).attr("y",618).attr("font-size",28).attr("fill","#143c78").text("®");

const bodyPieces = [["With protocols optimized for",916.5,361,739],["the MARS",916.5,126,779],["instruments, the",1066,205,779],["kits provide an integrated cell",916.5,378,819],["isolation solution.",916.5,222,859]];
bodyPieces.forEach(function(p){
    svg.append("text").attr("x",p[1]).attr("y",p[3]).attr("font-size",29).attr("fill","#231f20")
        .attr("textLength",p[2]).attr("lengthAdjust","spacingAndGlyphs").text(p[0]);
});
svg.append("text").attr("x",1044).attr("y",772).attr("font-size",18).attr("fill","#231f20").text("®");

// QR stub, cut by the page edge
svg.append("text").attr("x",1337).attr("y",600).attr("font-size",22).attr("fill","#143c78").text("Le");
svg.append("rect").attr("x",1326).attr("y",605).attr("width",29).attr("height",140).attr("fill","#fff");
[624,725].forEach(function(cy){
    svg.append("rect").attr("x",1336).attr("y",cy-9.5).attr("width",24).attr("height",19).attr("rx",6)
        .attr("fill","none").attr("stroke","#1b4b8a").attr("stroke-width",3);
    svg.append("circle").attr("cx",1346).attr("cy",cy).attr("r",5).attr("fill","#1b4b8a");
});
qrRows.forEach(function(row,r){
    row.split("").forEach(function(c,k){
        if(c==="1") svg.append("rect").attr("x",1334.5+k*3).attr("y",641+r*3.3).attr("width",3).attr("height",3).attr("fill","#1b4b8a");
    });
});

// product shape at the bottom edge
svg.append("path").attr("d","M1006,949L1295,934L1355,950V958H1006Z").attr("fill","#f1f1f1");
svg.append("path").attr("d","M1006,949L1024,958H1006Z").attr("fill","#dedede");
</script>
</body>
</html>
